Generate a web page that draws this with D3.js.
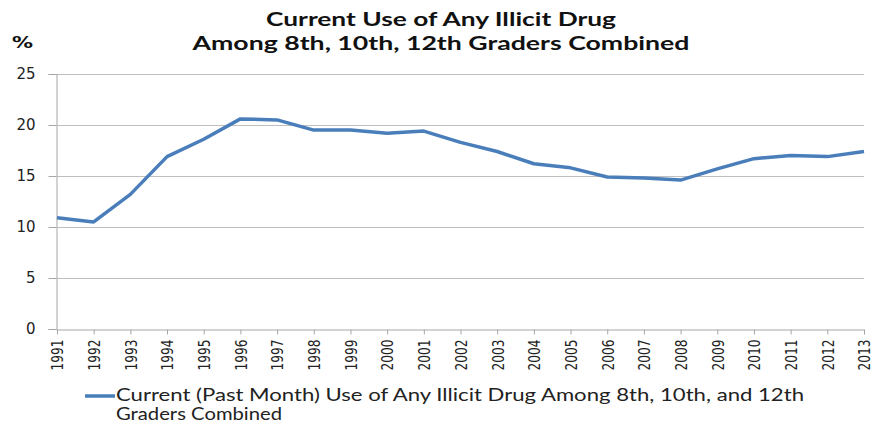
<!DOCTYPE html>
<html>
<head>
<meta charset="utf-8">
<script src="https://cdn.jsdelivr.net/npm/d3@7"></script>
<style>
  html, body { margin: 0; padding: 0; background: #fff; }
  svg { display: block; }
</style>
</head>
<body>
<svg id="chart" width="872" height="424"></svg>
<script>
// Past-month illicit drug use, 8th/10th/12th graders combined (%)
const years = [1991, 1992, 1993, 1994, 1995, 1996, 1997, 1998, 1999, 2000, 2001,
               2002, 2003, 2004, 2005, 2006, 2007, 2008, 2009, 2010, 2011, 2012, 2013];
const usePct = [10.9, 10.5, 13.2, 16.9, 18.6, 20.6, 20.5, 19.5, 19.5, 19.2, 19.4,
                18.3, 17.4, 16.2, 15.8, 14.9, 14.8, 14.6, 15.7, 16.7, 17.0, 16.9, 17.4];
const yTicks = [0, 5, 10, 15, 20, 25];
const titleLines = ["Current Use of Any Illicit Drug", "Among 8th, 10th, 12th Graders Combined"];
const seriesName = ["Current (Past Month) Use of Any Illicit Drug Among 8th, 10th, and 12th", "Graders Combined"];

const svg = d3.select("#chart");
const plot = { left: 57, right: 864, top: 74, bottom: 329 };
const lineColor = "#4a7ebb";
const gridColor = "#bfbfbf";
const axisColor = "#a6a6a6";
const wideStretch = 1.2;   // year labels are drawn horizontally widened

const x = d3.scalePoint().domain(years).range([plot.left, plot.right]);
const y = d3.scaleLinear().domain([0, 25]).range([plot.bottom, plot.top]);

// title, two centred lines
const titleWidths = [350, 497];
svg.append("g").selectAll("text").data(titleLines).join("text")
  .attr("x", (d, i) => 441 - titleWidths[i] / 2).attr("y", (d, i) => 26 + i * 24)
  .attr("textLength", (d, i) => titleWidths[i]).attr("lengthAdjust", "spacingAndGlyphs")
  .attr("font-family", "Lato, 'Open Sans', sans-serif")
  .attr("font-weight", "bold").attr("font-size", 18).attr("fill", "#111")
  .text(d => d);

svg.append("text").attr("x", 12).attr("y", 48)
  .attr("textLength", 21).attr("lengthAdjust", "spacingAndGlyphs")
  .attr("font-family", "'DejaVu Sans', sans-serif").attr("font-weight", "bold")
  .attr("font-size", 16).attr("fill", "#111").text("%");

// horizontal gridlines
svg.append("g").selectAll("line").data(yTicks.filter(d => d > 0)).join("line")
  .attr("x1", plot.left).attr("x2", plot.right)
  .attr("y1", d => y(d) + 0.5).attr("y2", d => y(d) + 0.5)
  .attr("stroke", gridColor).attr("stroke-width", 1);

// y axis
const yAxis = svg.append("g").attr("transform", `translate(${plot.left - 0.5},0)`)
  .call(d3.axisLeft(y).tickValues(yTicks).tickSize(8).tickPadding(13));
yAxis.select(".domain").attr("stroke", axisColor);
yAxis.selectAll(".tick line").attr("stroke", axisColor);
yAxis.selectAll(".tick text")
  .attr("font-family", "'DejaVu Sans', sans-serif").attr("font-size", 15).attr("fill", "#222");

// x axis with rotated year labels
const xAxis = svg.append("g").attr("transform", `translate(0,${plot.bottom + 0.5})`)
  .call(d3.axisBottom(x).tickSize(5).tickSizeOuter(0));
xAxis.select(".domain").attr("stroke", axisColor);
xAxis.selectAll(".tick line").attr("stroke", axisColor);
xAxis.selectAll(".tick text")
  .attr("font-family", "'DejaVu Sans Condensed', 'DejaVu Sans', sans-serif")
  .attr("font-size", 13.5).attr("fill", "#222")
  .attr("transform", `scale(${wideStretch},1) rotate(-90)`)
  .attr("text-anchor", "end").attr("dy", "0.36em")
  .attr("x", -10).attr("y", 0);

// series line
const line = d3.line().x((d, i) => x(years[i])).y(d => y(d));
svg.append("path").datum(usePct)
  .attr("d", line).attr("fill", "none")
  .attr("stroke", lineColor).attr("stroke-width", 3.5)
  .attr("stroke-linejoin", "round");

// legend
svg.append("line").attr("x1", 85).attr("x2", 115).attr("y1", 396).attr("y2", 396)
  .attr("stroke", lineColor).attr("stroke-width", 3.5);
const legendWidths = [688, 166];
svg.append("g").selectAll("text").data(seriesName).join("text")
  .attr("x", 116).attr("y", (d, i) => 401 + i * 19)
  .attr("textLength", (d, i) => legendWidths[i]).attr("lengthAdjust", "spacingAndGlyphs")
  .attr("font-family", "Lato, 'Open Sans', sans-serif")
  .attr("font-size", 16.5).attr("fill", "#222")
  .text(d => d);
</script>
</body>
</html>
